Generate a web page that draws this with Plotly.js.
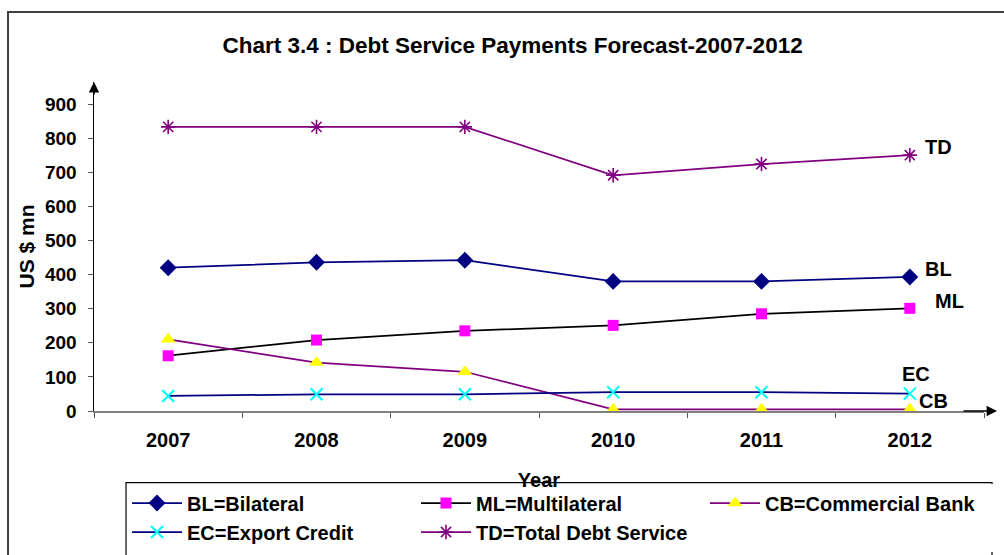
<!DOCTYPE html>
<html>
<head>
<meta charset="utf-8">
<script src="https://cdn.plot.ly/plotly-3.0.1.min.js"></script>
<style>html,body{margin:0;padding:0;background:#fff;}</style>
</head>
<body>
<div id="chart" style="width:1004px;height:555px;"></div>
<script>
// ---- Data ----
const years = ["2007", "2008", "2009", "2010", "2011", "2012"];
const bilateral = [420, 436, 442, 380, 380, 393];
const multilateral = [162, 208, 235, 251, 285, 301];
const commercialBank = [210, 142, 115, 5, 5, 5];
const exportCredit = [44, 49, 49, 55, 55, 51];
const totalDebtService = [833, 833, 833, 691, 724, 750];
const seriesNames = ["BL=Bilateral", "ML=Multilateral", "CB=Commercial Bank", "EC=Export Credit", "TD=Total Debt Service"];
const seriesTags = ["BL", "ML", "CB", "EC", "TD"];
const yTickValues = [0, 100, 200, 300, 400, 500, 600, 700, 800, 900];
const chartTitle = "Chart 3.4 : Debt Service Payments Forecast-2007-2012";
const xTitle = "Year";
const yTitle = "US $ mn";

// ---- Styling ----
const FONT = "Liberation Sans, Arial, Helvetica, sans-serif";
const seriesValues = [bilateral, multilateral, commercialBank, exportCredit, totalDebtService];
const styles = [
  {line: "#000080", marker: {symbol: "diamond", size: 13, color: "#000080"}},
  {line: "#000000", marker: {symbol: "square", size: 11, color: "#FF00FF"}},
  {line: "#800080", marker: {symbol: "triangle-up", size: 13, color: "#FFFF00"}},
  {line: "#000080", marker: {symbol: "x-thin-open", size: 12, color: "#00FFFF", line: {color: "#00FFFF", width: 2}}},
  {line: "#800080", marker: {symbol: "asterisk-open", size: 12, color: "#800080", line: {color: "#800080", width: 1.6}}}
];
// label offsets (px) relative to each series' last point
const labelOffsets = [
  {dx: 13, dy: 8}, {dx: 23, dy: 7}, {dx: 7, dy: 8}, {dx: -10, dy: 20}, {dx: 13, dy: 8}
];

const traces = seriesValues.map((vals, i) => ({
  type: "scatter",
  mode: "lines+markers",
  name: seriesNames[i],
  x: years,
  y: vals,
  cliponaxis: false,
  line: {color: styles[i].line, width: 1.75},
  marker: styles[i].marker
}));

const lastIdx = years.length - 1;
const annotations = seriesValues.map((vals, i) => ({
  x: lastIdx,
  y: vals[lastIdx],
  xref: "x", yref: "y",
  text: seriesTags[i],
  showarrow: false,
  xanchor: "left",
  yanchor: "middle",
  xshift: labelOffsets[i].dx,
  yshift: labelOffsets[i].dy,
  font: {family: FONT, size: 20, color: "#000", weight: "bold"}
}));

// axis arrows
annotations.push({
  xref: "paper", yref: "paper", x: 0, y: 1, ax: 0, ay: 14,
  text: "", showarrow: true, arrowhead: 2, arrowsize: 1.3, arrowwidth: 1.6, arrowcolor: "#000"
});
annotations.push({
  xref: "paper", yref: "paper", x: 1.0146, y: 0, ax: -35, ay: 0,
  text: "", showarrow: true, arrowhead: 2, arrowsize: 1.3, arrowwidth: 1.6, arrowcolor: "#000"
});

const layout = {
  width: 1004,
  height: 555,
  margin: {l: 94, r: 20, t: 82, b: 144, pad: 0, autoexpand: false},
  paper_bgcolor: "#fff",
  plot_bgcolor: "#fff",
  font: {family: FONT, color: "#000"},
  title: {
    text: chartTitle,
    font: {family: FONT, size: 22.5, color: "#000", weight: "bold"},
    xref: "container", x: 0.5105, xanchor: "center",
    yref: "container", y: 0.919, yanchor: "middle"
  },
  xaxis: {
    type: "category",
    categoryorder: "array",
    categoryarray: years,
    range: [-0.5, 5.5],
    showgrid: false,
    zeroline: false,
    showline: true,
    linecolor: "#808080",
    linewidth: 1.5,
    ticks: "outside",
    tickson: "boundaries",
    ticklen: 5,
    tickcolor: "#555",
    tickwidth: 1,
    ticklabelstandoff: 10,
    tickfont: {family: FONT, size: 20, color: "#000", weight: "bold"},
    title: {text: xTitle, standoff: 23, font: {family: FONT, size: 20, color: "#000", weight: "bold"}}
  },
  yaxis: {
    range: [0, 964.5],
    tickmode: "array",
    tickvals: yTickValues,
    ticktext: yTickValues.map(String),
    showgrid: false,
    zeroline: false,
    showline: true,
    linecolor: "#000",
    linewidth: 1.5,
    ticks: "outside",
    ticklen: 5,
    tickcolor: "#555",
    tickwidth: 1,
    ticklabelstandoff: 7,
    tickfont: {family: FONT, size: 19, color: "#000", weight: "bold"},
    title: {text: yTitle, standoff: 4, font: {family: FONT, size: 21, color: "#000", weight: "bold"}}
  },
  showlegend: true,
  legend: {
    orientation: "h",
    xref: "paper", yref: "paper",
    x: 0.0371, xanchor: "left",
    y: -0.2204, yanchor: "top",
    bgcolor: "#fff",
    borderwidth: 0,
    itemwidth: 50,
    entrywidth: 0.3247,
    entrywidthmode: "fraction",
    traceorder: "normal",
    font: {family: FONT, size: 20, color: "#000", weight: "bold"}
  },
  annotations: annotations,
  shapes: [
    {type: "rect", xref: "paper", yref: "paper", x0: -0.0966, x1: 1.2, y0: 1.2128, y1: -0.7,
     line: {color: "#404040", width: 2}, fillcolor: "rgba(0,0,0,0)", layer: "above"},
    {type: "rect", xref: "paper", yref: "paper", x0: 0.036, x1: 1.009, y0: -0.2179, y1: -0.7,
     line: {color: "#000", width: 1.2}, fillcolor: "rgba(0,0,0,0)", layer: "above"}
  ]
};

Plotly.newPlot("chart", traces, layout, {displayModeBar: false, responsive: false, staticPlot: true});
</script>
</body>
</html>
